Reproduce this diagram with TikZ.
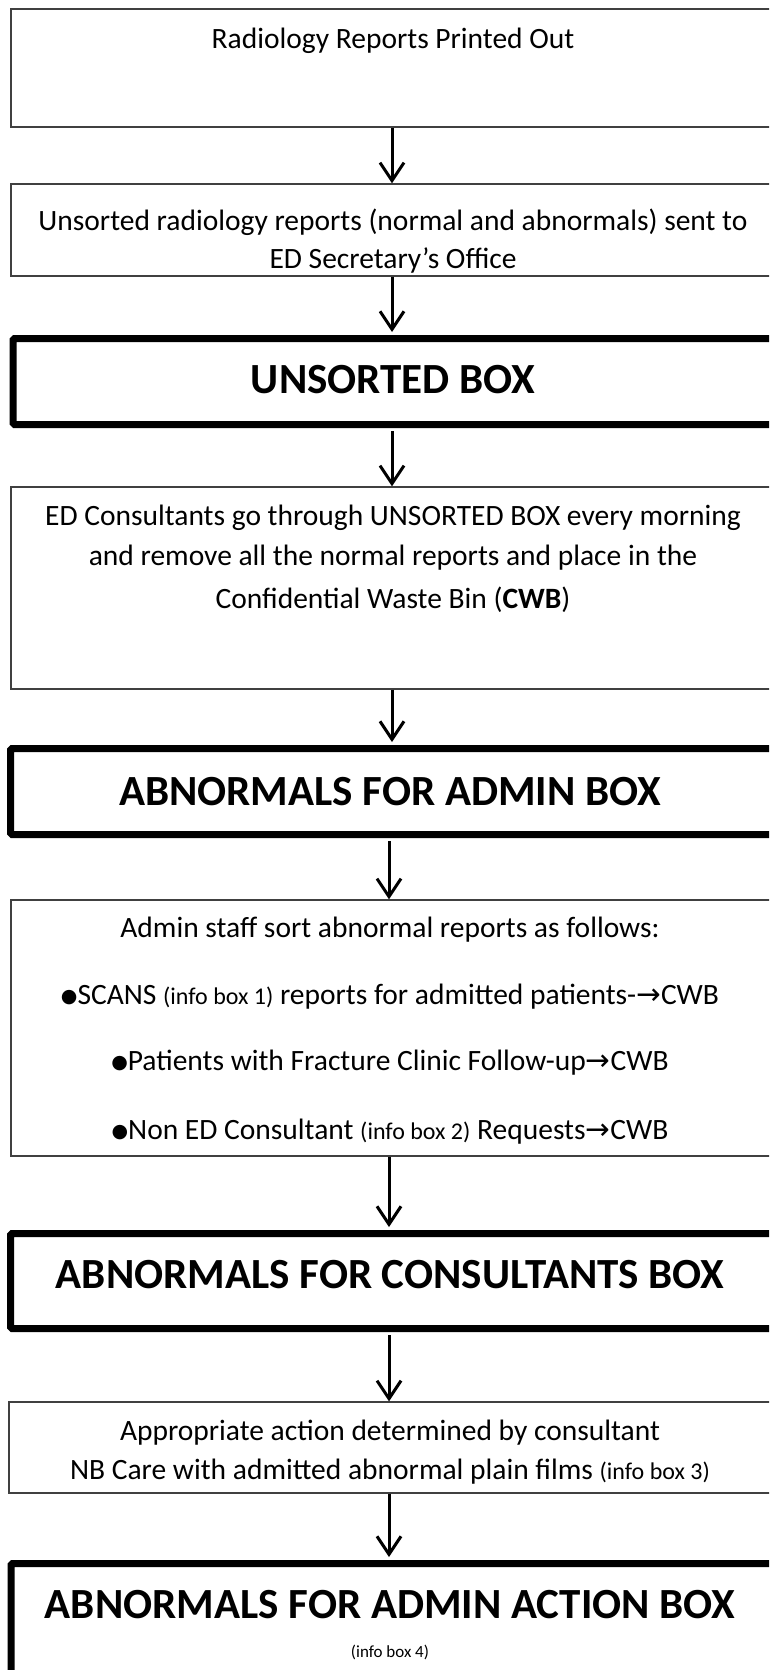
\documentclass[tikz,border=0pt]{standalone}
\usepackage{fontspec}
\setmainfont{Carlito}
\newfontfamily\symfont{DejaVu Sans}
\usetikzlibrary{arrows.meta}
\newcommand{\bul}{{\symfont\fontsize{19}{19}\selectfont\raisebox{2.5pt}{●}}}
\newcommand{\rarr}{{\symfont →}}
\newcommand{\ib}[1]{{\fontsize{24}{28}\selectfont #1}}
\begin{document}
\begin{tikzpicture}[x=1pt,y=-1pt,
  thinbox/.style={draw=black!75, line width=1.3pt, rectangle, inner sep=0pt, minimum width=766pt},
  thickbox/.style={draw=black, line width=7pt, rectangle, rounded corners=1.5pt, inner sep=0pt, minimum width=766pt},
  txt/.style={inner sep=0pt, font=\fontsize{29.5}{34}\selectfont},
  headtxt/.style={inner sep=0pt, font=\fontsize{43}{50}\selectfont\bfseries},
  smalltxt/.style={inner sep=0pt, font=\fontsize{17}{20}\selectfont},
  arr/.style={line width=3pt, -{Straight Barb[length=18pt,width=24pt,line width=3pt]}}
]
\fill[white] (0,0) rectangle (769,1670);
\clip (0,0) rectangle (769,1670);
\coordinate (ca) at (392,0);
\coordinate (cb) at (389,0);

% boxes
\node[thinbox, minimum height=118pt] (b1) at (394,68) {};
\node[thinbox, minimum height=92pt] (b2) at (394,230) {};
\node[thickbox, minimum height=86pt, minimum width=764pt] (b3) at (395,381.5) {};
\node[thinbox, minimum height=202pt] (b4) at (394,588) {};
\node[thickbox, minimum height=86pt] (b5) at (393.5,791.5) {};
\node[thinbox, minimum height=256pt] (b6) at (394,1028) {};
\node[thickbox, minimum height=95pt] (b7) at (393.5,1281) {};
\node[thinbox, minimum height=91pt] (b8) at (392,1447.5) {};
\node[thickbox, minimum height=180pt] (b9) at (394,1653.5) {};

% texts
\node[txt] (t1) at (393,41) {Radiology Reports Printed Out};
\node[txt] (t2a) at (393,222) {Unsorted radiology reports (normal and abnormals) sent to};
\begin{scope}
\clip (b2.south west) rectangle (b2.north east);
\node[txt] (t2b) at (393,260) {ED Secretary’s Office};
\end{scope}
\node[headtxt] (t3) at (393,380) {UNSORTED BOX};
\node[txt] (t4a) at (393,518) {ED Consultants go through UNSORTED BOX every morning};
\node[txt] (t4b) at (393,558) {and remove all the normal reports and place in the};
\node[txt] (t4c) at (393,600) {Confidential Waste Bin (\textbf{CWB})};
\node[headtxt] (t5) at (390,792) {ABNORMALS FOR ADMIN BOX};
\node[txt] (t6a) at (390,930) {Admin staff sort abnormal reports as follows:};
\node[txt] (t6b) at (390,997) {\bul SCANS \ib{(info box 1)} reports for admitted patients-\rarr CWB};
\node[txt] (t6c) at (390,1063) {\bul Patients with Fracture Clinic Follow-up\rarr CWB};
\node[txt] (t6d) at (390,1132) {\bul Non ED Consultant \ib{(info box 2)} Requests\rarr CWB};
\node[headtxt] (t7) at (390,1275) {ABNORMALS FOR CONSULTANTS BOX};
\node[txt] (t8a) at (390,1433) {Appropriate action determined by consultant};
\node[txt] (t8b) at (390,1472) {NB Care with admitted abnormal plain films \ib{(info box 3)}};
\node[headtxt] (t9a) at (390,1605) {ABNORMALS FOR ADMIN ACTION BOX};
\node[smalltxt] (t9b) at (390,1652) {(info box 4)};

% arrows
\draw[arr] (b1.south -| ca) -- (b2.north -| ca);
\draw[arr] (b2.south -| ca) -- ([yshift=3pt]b3.north -| ca);
\draw[arr] ([yshift=-3pt]b3.south -| ca) -- (b4.north -| ca);
\draw[arr] (b4.south -| ca) -- ([yshift=3pt]b5.north -| ca);
\draw[arr] ([yshift=-3pt]b5.south -| cb) -- (b6.north -| cb);
\draw[arr] (b6.south -| cb) -- ([yshift=3pt]b7.north -| cb);
\draw[arr] ([yshift=-3pt]b7.south -| cb) -- (b8.north -| cb);
\draw[arr] (b8.south -| cb) -- ([yshift=3pt]b9.north -| cb);
\end{tikzpicture}
\end{document}
